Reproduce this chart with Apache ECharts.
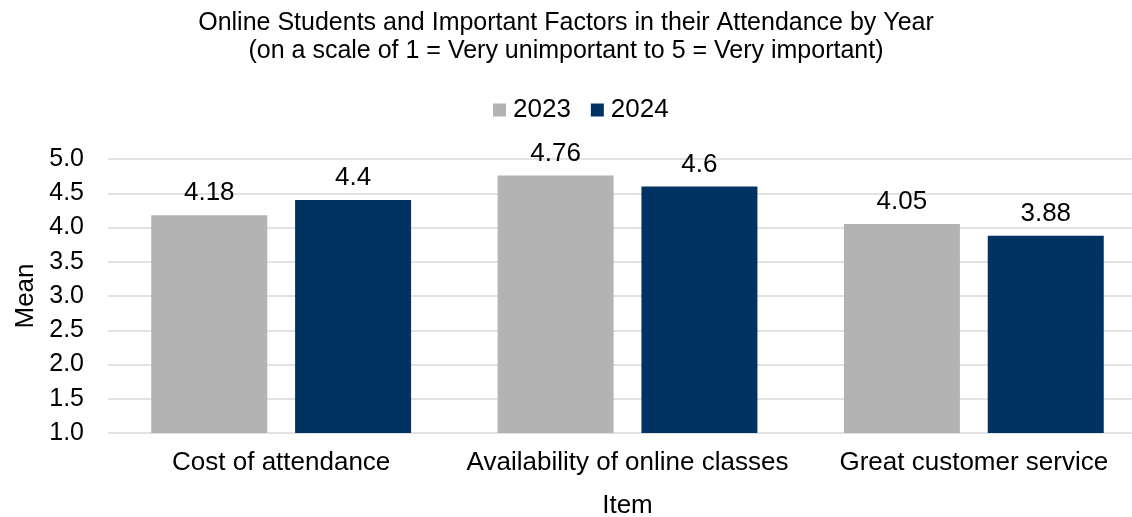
<!DOCTYPE html>
<html>
<head>
<meta charset="utf-8">
<script src="https://cdn.jsdelivr.net/npm/echarts@6/dist/echarts.min.js"></script>
<style>
  html, body { margin: 0; padding: 0; background: #fff; }
  #chart { width: 1132px; height: 517px; }
</style>
</head>
<body>
<div id="chart"></div>
<script>
var items = ['Cost of attendance', 'Availability of online classes', 'Great customer service'];
var years = ['2023', '2024'];
var mean2023 = [4.18, 4.76, 4.05];
var mean2024 = [4.4, 4.6, 3.88];

(function(){
    var myChart = echarts.init(document.getElementById('chart'));
    var font = 'Liberation Sans, Arial, sans-serif';
    var barLabel = {
        show: true,
        position: 'top',
        distance: 9,
        color: '#000',
        fontSize: 26,
        fontFamily: font
    };
    var option = {
        color: ['#b3b3b3', '#003262'],
        title: {
            text: 'Online Students and Important Factors in their Attendance by Year\n(on a scale of 1 = Very unimportant to 5 = Very important)',
            left: 'center',
            top: 4,
            textStyle: {
                color: '#000',
                fontSize: 25,
                fontWeight: 'normal',
                fontFamily: font,
                lineHeight: 28
            }
        },
        legend: {
            data: years,
            top: 92,
            left: 488,
            itemWidth: 13,
            itemHeight: 13,
            itemGap: 20,
            icon: 'rect',
            textStyle: {
                color: '#000',
                fontSize: 26,
                fontFamily: font,
                padding: [0, 0, 0, 2]
            }
        },
        grid: {
            left: 108,
            top: 159,
            width: 1039,
            height: 274,
            outerBoundsMode: 'none',
            containLabel: false
        },
        xAxis: {
            type: 'category',
            data: items,
            name: 'Item',
            nameLocation: 'middle',
            nameGap: 60,
            nameTextStyle: { color: '#000', fontSize: 26, fontFamily: font },
            axisLine: { show: false },
            axisTick: { show: false },
            axisLabel: { color: '#000', fontSize: 26, fontFamily: font, margin: 17, interval: 0 }
        },
        yAxis: {
            type: 'value',
            min: 1,
            max: 5,
            interval: 0.5,
            name: 'Mean',
            nameLocation: 'middle',
            nameGap: 64,
            nameTextStyle: { color: '#000', fontSize: 26, fontFamily: font },
            axisLine: { show: false },
            axisTick: { show: false },
            axisLabel: {
                color: '#000',
                fontSize: 25,
                fontFamily: font,
                margin: 24,
                formatter: function (v) { return v.toFixed(1); }
            },
            splitLine: { lineStyle: { color: '#d9d9d9', width: 1.5 } }
        },
        series: [{
            name: years[0],
            type: 'bar',
            data: mean2023,
            barWidth: 116,
            barGap: '24%',
            label: barLabel
        }, {
            name: years[1],
            type: 'bar',
            data: mean2024,
            barWidth: 116,
            barGap: '24%',
            label: barLabel
        }]
    };
    myChart.setOption(option);
})();
</script>
</body>
</html>
